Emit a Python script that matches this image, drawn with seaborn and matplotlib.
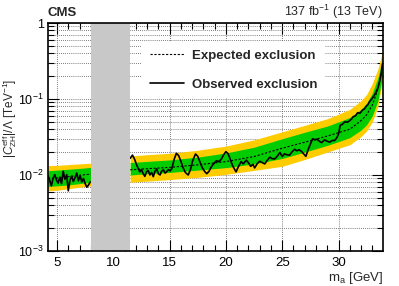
import numpy as np
import pandas as pd
import matplotlib
matplotlib.use("Agg")
import matplotlib.pyplot as plt
from matplotlib.lines import Line2D
from matplotlib.ticker import FixedLocator, MultipleLocator, NullFormatter, LogLocator
import seaborn as sns

# ---------------- data ----------------
# low-mass segment (expected + bands)
m_lo = [4.2, 5.0, 6.0, 7.0, 8.0]
exp_lo = [0.0090, 0.0091, 0.0095, 0.0099, 0.0103]
y2up_lo = [0.0133, 0.0134, 0.0137, 0.0140, 0.0143]
y1up_lo = [0.0114, 0.0116, 0.0119, 0.0122, 0.0126]
y1dn_lo = [0.0071, 0.0072, 0.0074, 0.0077, 0.0080]
y2dn_lo = [0.0062, 0.0063, 0.0066, 0.0069, 0.0072]

# high-mass segment (expected + bands)
m_hi = [11.5, 13, 15, 17.5, 20, 22.5, 25, 27, 29, 30, 31, 32, 32.5, 33, 33.5, 33.9]
exp_hi = [0.0117, 0.0121, 0.0126, 0.0136, 0.0150, 0.0175, 0.0225, 0.0270, 0.0325,
          0.036, 0.040, 0.052, 0.062, 0.083, 0.135, 0.26]
y2up_hi = [0.0178, 0.0185, 0.0193, 0.0212, 0.024, 0.029, 0.037, 0.045, 0.055,
           0.063, 0.073, 0.095, 0.115, 0.16, 0.25, 0.42]
y1up_hi = [0.0146, 0.0151, 0.0158, 0.0172, 0.0195, 0.0232, 0.0300, 0.0365, 0.044,
           0.050, 0.057, 0.073, 0.088, 0.12, 0.19, 0.34]
y1dn_hi = [0.0100, 0.0104, 0.0108, 0.0116, 0.0125, 0.0140, 0.0165, 0.020, 0.0245,
           0.0275, 0.031, 0.039, 0.046, 0.060, 0.095, 0.20]
y2dn_hi = [0.0080, 0.0083, 0.0087, 0.0093, 0.0102, 0.0115, 0.0130, 0.0160, 0.0200,
           0.0224, 0.025, 0.032, 0.038, 0.050, 0.080, 0.17]

# observed
obs_m_lo = [4.2, 4.35, 4.5, 4.65, 4.8, 4.95, 5.1, 5.25, 5.4, 5.55, 5.7, 5.86, 6.0,
            6.15, 6.3, 6.45, 6.6, 6.75, 6.9, 7.05, 7.2, 7.35, 7.5, 7.65, 7.8, 7.95]
obs_lo = [0.0098, 0.0085, 0.0072, 0.0090, 0.0101, 0.0086, 0.0078, 0.0094, 0.0077,
          0.0112, 0.0088, 0.0101, 0.0062, 0.0085, 0.0097, 0.0082, 0.0092, 0.0106,
          0.0084, 0.0099, 0.0081, 0.0090, 0.0077, 0.0069, 0.0074, 0.0081]

obs_m_hi = [11.5, 11.7, 11.9, 12.05, 12.2, 12.35, 12.5, 12.65, 12.8, 12.95, 13.1,
            13.25, 13.4, 13.55, 13.7, 13.85, 14.0, 14.15, 14.3, 14.45, 14.6, 14.75,
            14.9, 15.05, 15.2, 15.4, 15.6, 15.8, 16.0, 16.2, 16.4, 16.65, 16.85,
            17.05, 17.3, 17.5, 17.7, 17.9, 18.1, 18.3, 18.5, 18.7, 18.9, 19.15,
            19.4, 19.6, 19.8, 20.0, 20.2, 20.4, 20.6, 20.9, 21.1, 21.35, 21.55,
            21.8, 22.0, 22.2, 22.4, 22.55, 22.8, 23.0, 23.2, 23.45, 23.7, 23.9,
            24.1, 24.35, 24.6, 24.8, 25.0, 25.2, 25.4, 25.65, 25.85, 26.1, 26.3,
            26.5, 26.7, 26.9, 27.1, 27.3, 27.5, 27.7, 27.9, 28.1, 28.3, 28.5,
            28.75, 28.95, 29.2, 29.45, 29.65, 29.85, 30.0, 30.15, 30.35, 30.55,
            30.8, 31.0, 31.15, 31.3, 31.5, 31.7, 31.9, 32.15, 32.3, 32.45, 32.6,
            32.75, 32.95, 33.2, 33.35, 33.5, 33.65, 33.8, 33.9]
obs_hi = [0.0166, 0.0183, 0.0160, 0.0138, 0.0123, 0.0110, 0.0118, 0.0104, 0.0096,
          0.0110, 0.0115, 0.0100, 0.0108, 0.0095, 0.0112, 0.0120, 0.0104, 0.0100,
          0.0113, 0.0117, 0.0106, 0.0111, 0.0118, 0.0113, 0.0122, 0.0160, 0.0193,
          0.0180, 0.0152, 0.0124, 0.0108, 0.0100, 0.0118, 0.0155, 0.0189, 0.0176,
          0.0148, 0.0125, 0.0112, 0.0104, 0.0112, 0.0128, 0.0140, 0.0154, 0.0150,
          0.0163, 0.0185, 0.0203, 0.0190, 0.0158, 0.0132, 0.0110, 0.0128, 0.0150,
          0.0140, 0.0157, 0.0145, 0.0130, 0.0138, 0.0124, 0.0142, 0.0152, 0.0146,
          0.0140, 0.0158, 0.0172, 0.0164, 0.0163, 0.0180, 0.0198, 0.0175, 0.0190,
          0.0185, 0.0182, 0.0200, 0.0218, 0.0208, 0.0215, 0.0205, 0.0190, 0.0176,
          0.0215, 0.0255, 0.0300, 0.0290, 0.0296, 0.0278, 0.0266, 0.0290, 0.0280,
          0.0270, 0.0285, 0.0284, 0.0310, 0.0345, 0.0450, 0.0465, 0.0500, 0.0495,
          0.0520, 0.0545, 0.0585, 0.0600, 0.0660, 0.0650, 0.0720, 0.0740, 0.0800,
          0.0840, 0.0920, 0.1000, 0.1130, 0.1250, 0.1400, 0.1700, 0.2200, 0.2900]

excluded_region = [8.0, 11.5]
x_ticks = [5, 10, 15, 20, 25, 30]
y_ticks = [1e-3, 1e-2, 1e-1, 1]
y_ticklabels = [r"$10^{-3}$", r"$10^{-2}$", r"$10^{-1}$", "1"]

# ---------------- style ----------------
sns.set_style("ticks")
plt.rcParams["font.family"] = ["Liberation Sans", "DejaVu Sans"]
plt.rcParams["mathtext.fontset"] = "custom"
plt.rcParams["mathtext.rm"] = "Liberation Sans"
plt.rcParams["mathtext.it"] = "Liberation Sans:italic"
plt.rcParams["mathtext.bf"] = "Liberation Sans:bold"

YELLOW = "#ffcc00"
GREEN = "#00cc00"

fig = plt.figure(figsize=(3.99, 2.86), dpi=100)
ax = fig.add_axes([48 / 399, 1 - 251 / 286, (383 - 48) / 399, (251 - 23) / 286])

for m, e, y2u, y1u, y1d, y2d in [
    (m_lo, exp_lo, y2up_lo, y1up_lo, y1dn_lo, y2dn_lo),
    (m_hi, exp_hi, y2up_hi, y1up_hi, y1dn_hi, y2dn_hi),
]:
    ax.fill_between(m, y2d, y2u, color=YELLOW, lw=0, zorder=2)
    ax.fill_between(m, y1d, y1u, color=GREEN, lw=0, zorder=3)
    df = pd.DataFrame({"m": m, "v": e})
    sns.lineplot(data=df, x="m", y="v", ax=ax, color="black", lw=0.8,
                 linestyle=(0, (2.0, 1.5)), estimator=None, sort=False, zorder=4)

for m, o in [(obs_m_lo, obs_lo), (obs_m_hi, obs_hi)]:
    df = pd.DataFrame({"m": m, "v": o})
    sns.lineplot(data=df, x="m", y="v", ax=ax, color="black", lw=1.2,
                 estimator=None, sort=False, zorder=5)

ax.axvspan(excluded_region[0], excluded_region[1], color="#c8c8c8", lw=0, zorder=6)

ax.set_yscale("log")
ax.set_xlim(4.2, 33.95)
ax.set_ylim(1e-3, 1)

ax.xaxis.set_major_locator(FixedLocator(x_ticks))
ax.xaxis.set_minor_locator(MultipleLocator(1))
ax.set_xticklabels([str(t) for t in x_ticks])
ax.yaxis.set_major_locator(FixedLocator(y_ticks))
ax.set_yticklabels(y_ticklabels)
ax.yaxis.set_minor_locator(LogLocator(base=10, subs=np.arange(2, 10), numticks=20))
ax.yaxis.set_minor_formatter(NullFormatter())

ax.tick_params(which="both", direction="in", top=True, right=True, labelsize=9.5,
               colors="black", width=0.8)
ax.tick_params(which="major", length=8, pad=4)
ax.tick_params(which="minor", length=4)
ax.tick_params(axis="y", which="major", labelsize=9, pad=3)

ax.set_axisbelow(True)
ax.grid(True, which="major", axis="x", linestyle=(0, (1, 1.5)), color="#555555", lw=0.6)
ax.grid(True, which="both", axis="y", linestyle=(0, (1, 1.5)), color="#555555", lw=0.6)

for s in ax.spines.values():
    s.set_linewidth(1.2)
    s.set_color("black")
    s.set_zorder(10)

ax.set_xlabel(r"m$_{\rm a}$ [GeV]", fontsize=9.5, loc="right", labelpad=1)
ax.set_ylabel(r"$|C^{\rm eff}_{\rm ZH}|/\Lambda$ [TeV$^{-1}$]", fontsize=8.5,
              labelpad=1)
ax.yaxis.set_label_coords(-0.086, 0.58)

fig.text(48 / 399, 1 - 16 / 286, "CMS", fontsize=9.5, fontweight="bold",
         ha="left", va="baseline")
fig.text(383 / 399, 1 - 16 / 286, r"137 fb$^{-1}$ (13 TeV)", fontsize=9,
         ha="right", va="baseline")

handles = [Line2D([], [], color="black", lw=0.8, linestyle=(0, (2.0, 1.5))),
           Line2D([], [], color="black", lw=1.2)]
leg = ax.legend(handles, ["Expected exclusion", "Observed exclusion"],
                loc="upper left", bbox_to_anchor=(0.262, 0.945),
                frameon=True, fancybox=False, framealpha=1, facecolor="white",
                edgecolor="none", handlelength=2.6, handletextpad=0.6,
                labelspacing=1.3, borderpad=0.55,
                prop={"weight": "bold", "size": 9.5})
leg.set_zorder(7)

fig.savefig("out.png", dpi=100)
